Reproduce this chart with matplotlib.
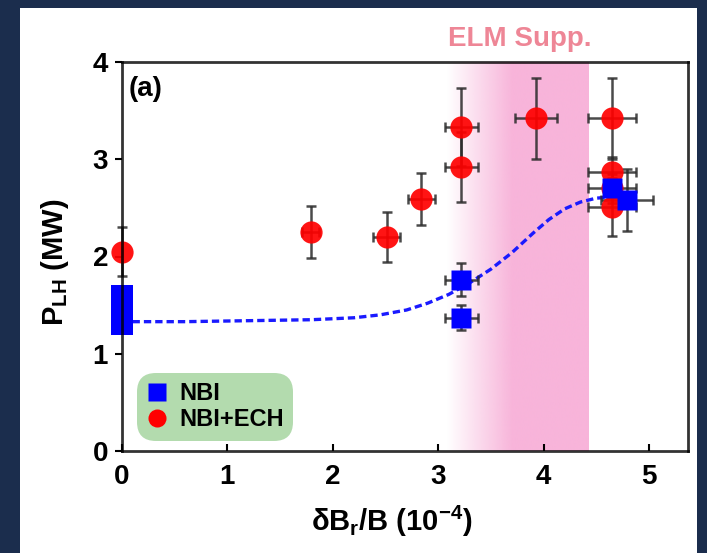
import numpy as np
import matplotlib
matplotlib.use("Agg")
import matplotlib.pyplot as plt
from matplotlib import font_manager
from matplotlib.lines import Line2D
from matplotlib.patches import Rectangle

# Font: narrow bold sans like the original figure
names = {f.name for f in font_manager.fontManager.ttflist}
FONT = "Liberation Sans Narrow" if "Liberation Sans Narrow" in names else "Liberation Sans"
plt.rcParams["font.family"] = [FONT, "DejaVu Sans"]
plt.rcParams["font.weight"] = "bold"
plt.rcParams["mathtext.fontset"] = "custom"
plt.rcParams["mathtext.bf"] = FONT + ":bold"
plt.rcParams["mathtext.rm"] = FONT + ":bold"
plt.rcParams["mathtext.default"] = "bf"

# NBI+ECH points (red circles)
ech_x = [0.0, 1.79, 2.51, 2.84, 3.22, 3.22, 3.93, 4.65, 4.65, 4.65, 4.65]
ech_y = [2.05, 2.25, 2.20, 2.59, 3.33, 2.92, 3.42, 3.42, 2.87, 2.70, 2.51]
ech_xerr = [0.0, 0.08, 0.13, 0.13, 0.16, 0.16, 0.20, 0.23, 0.23, 0.23, 0.23]
ech_yerr = [0.25, 0.27, 0.26, 0.27, 0.40, 0.36, 0.42, 0.42, 0.15, 0.15, 0.30]

# NBI points (blue squares)
nbi_x = [3.22, 3.22, 4.65, 4.79]
nbi_y = [1.76, 1.37, 2.70, 2.58]
nbi_xerr = [0.16, 0.16, 0.0, 0.25]
nbi_yerr = [0.17, 0.13, 0.0, 0.32]

# NBI range at zero field (drawn as a box)
nbi0_x = 0.0
nbi0_low = 1.19
nbi0_high = 1.71

# dashed trend line through NBI points
fit_x = [0.1, 0.6, 1.2, 1.8, 2.2, 2.45, 2.7, 2.9, 3.1, 3.3, 3.5, 3.7, 3.9, 4.05, 4.2, 4.35, 4.5, 4.62]
fit_y = [1.33, 1.33, 1.34, 1.35, 1.37, 1.40, 1.45, 1.52, 1.61, 1.73, 1.87, 2.04, 2.24, 2.38, 2.49, 2.56, 2.60, 2.61]

# ELM suppression window
elm_start, elm_full, elm_end = 3.08, 3.70, 4.42

xticks = [0, 1, 2, 3, 4, 5]
yticks = [0, 1, 2, 3, 4]

W, H = 707, 553
fig = plt.figure(figsize=(W / 100, H / 100), dpi=100)
fig.patch.set_facecolor("#1b2d4d")
fig.patches.append(Rectangle((20 / W, 0), (697 - 20) / W, 1 - 8 / H,
                             transform=fig.transFigure, facecolor="white",
                             edgecolor="none", zorder=-10))

ax = fig.add_axes([122 / W, 1 - 451 / H, (688 - 122) / W, (451 - 62) / H])
ax.set_facecolor("none")
ax.set_xlim(0, 5.37)
ax.set_ylim(0, 4)

# pink shaded band with a fade-in on the left
pink = np.array([248, 180, 218]) / 255
cols = 300
xs = np.linspace(elm_start, elm_end, cols)
a = np.clip((xs - elm_start) / (elm_full - elm_start), 0, 1)
img = np.zeros((1, cols, 4))
img[0, :, :3] = pink
img[0, :, 3] = a
ax.imshow(img, extent=[elm_start, elm_end, 0, 4], aspect="auto",
          interpolation="bilinear", zorder=1)
ax.text((elm_start + elm_end) / 2 + 0.02, 4.1, "ELM Supp.", color="#ee8696",
        fontsize=20, fontweight="bold", ha="center", va="bottom")

ax.plot(fit_x, fit_y, color="#1a1aff", lw=2.4, ls=(0, (2.2, 1.2)), zorder=3)

ebar = dict(fmt="none", ecolor="#2a2a2a", elinewidth=1.8, capsize=3.5,
            capthick=1.8, alpha=0.85, zorder=4, clip_on=False)
ax.errorbar(ech_x, ech_y, xerr=ech_xerr, yerr=ech_yerr, **ebar)
ax.plot(ech_x, ech_y, "o", ms=16, color="#ff0000", mec="none", alpha=0.92,
        zorder=5, clip_on=False)

ax.bar(nbi0_x, nbi0_high - nbi0_low, bottom=nbi0_low, width=0.2,
       color="#0000ff", zorder=6, clip_on=False)
ax.errorbar(nbi_x, nbi_y, xerr=nbi_xerr, yerr=nbi_yerr, **ebar)
ax.plot(nbi_x, nbi_y, "s", ms=15, color="#0000ff", mec="none", zorder=7,
        clip_on=False)

ax.text(0.06, 3.72, "(a)", fontsize=20, fontweight="bold", ha="left", va="center")

for s in ax.spines.values():
    s.set_linewidth(2)
    s.set_color("black")
    s.set_alpha(0.8)
    s.set_zorder(8)

ax.set_xticks(xticks)
ax.set_yticks(yticks)
ax.tick_params(axis="x", direction="in", length=5, width=1.5, pad=9, labelsize=20)
ax.tick_params(axis="y", direction="out", length=5, width=1.5, pad=5, labelsize=20)
for lab in ax.get_xticklabels() + ax.get_yticklabels():
    lab.set_fontweight("bold")

fig.text(392 / W, 1 - 521 / H, "δB$_r$/B (10$^{-4}$)", fontsize=21,
         fontweight="bold", ha="center", va="center")
fig.text(55 / W, 1 - 262 / H, "P$_{LH}$ (MW)", fontsize=21, fontweight="bold",
         ha="center", va="center", rotation=90)

handles = [Line2D([], [], ls="none", marker="s", ms=13, color="#0000ff", mec="none"),
           Line2D([], [], ls="none", marker="o", ms=13, color="#ff0000", mec="none")]
leg = ax.legend(handles, ["NBI", "NBI+ECH"], loc="lower left",
                bbox_to_anchor=(0.03, 0.033), borderaxespad=0, fancybox=True,
                framealpha=1, facecolor="#b3dbae", edgecolor="none",
                prop={"size": 17, "weight": "bold"}, handlelength=0.9,
                handletextpad=0.5, labelspacing=0.12, borderpad=0.3)
leg.get_frame().set_boxstyle("round,pad=0.1,rounding_size=0.8")
leg.set_zorder(9)

fig.savefig("out.png", dpi=100, facecolor=fig.get_facecolor())
